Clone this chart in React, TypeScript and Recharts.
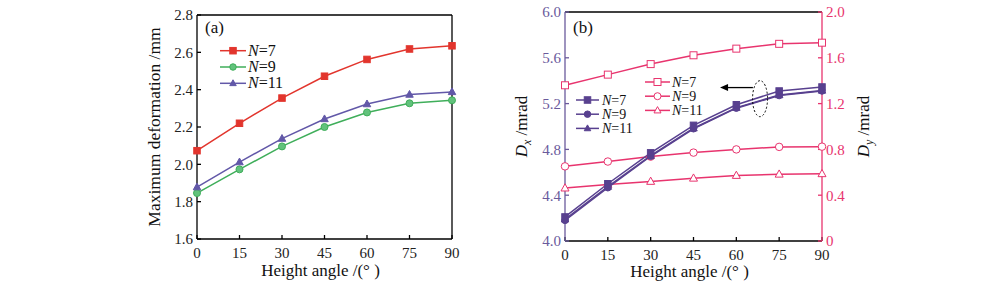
import React from "react";
import { LineChart, Line, XAxis, YAxis, ReferenceLine, ReferenceDot, Legend } from "recharts";

// Two panels: (a) max deformation vs height angle, (b) Dx / Dy pointing error on twin axes
const FONT = "'Liberation Serif', 'Times New Roman', serif";

const angles = [0, 15, 30, 45, 60, 75, 90];

// panel (a)
const defN7 = [2.073, 2.22, 2.355, 2.472, 2.562, 2.618, 2.635];
const defN9 = [1.846, 1.973, 2.096, 2.2, 2.278, 2.327, 2.343];
const defN11 = [1.878, 2.012, 2.138, 2.243, 2.323, 2.374, 2.388];
const ticksA = [1.6, 1.8, 2.0, 2.2, 2.4, 2.6, 2.8];

// panel (b)
const dxN7 = [4.21, 4.5, 4.77, 5.01, 5.19, 5.31, 5.345];
const dxN9 = [4.18, 4.465, 4.74, 4.98, 5.16, 5.27, 5.31];
const dxN11 = [4.19, 4.475, 4.745, 4.985, 5.165, 5.275, 5.315];
const dyN7 = [1.36, 1.453, 1.545, 1.622, 1.68, 1.722, 1.732];
const dyN9 = [0.652, 0.694, 0.737, 0.772, 0.8, 0.822, 0.824];
const dyN11 = [0.462, 0.494, 0.52, 0.548, 0.572, 0.583, 0.587];
const ticksDx = [4.0, 4.4, 4.8, 5.2, 5.6, 6.0];
const ticksDy = [0, 0.4, 0.8, 1.2, 1.6, 2.0];

const seriesLabels = ["7", "9", "11"];

const dataA = angles.map((a, i) => ({ angle: a, n7: defN7[i], n9: defN9[i], n11: defN11[i] }));
const dataB = angles.map((a, i) => ({
  angle: a,
  dx7: dxN7[i], dx9: dxN9[i], dx11: dxN11[i],
  dy7: dyN7[i], dy9: dyN9[i], dy11: dyN11[i],
}));

const RED = "#e2352d";
const GREEN = "#3fae5a";
const GREEN_FILL = "#62c27c";
const VIOLET = "#6258a8";
const DX = "#58408f";
const DX_AXIS = "#6a5a9c";
const PINK = "#e8346e";

type Shape = "square" | "circle" | "triangle";

function marker(shape: Shape, cx: number, cy: number, stroke: string, fill: string, s: number, key?: any) {
  if (shape === "square")
    return <rect key={key} x={cx - s / 2} y={cy - s / 2} width={s} height={s} fill={fill} stroke={stroke} strokeWidth={1} />;
  if (shape === "circle")
    return <circle key={key} cx={cx} cy={cy} r={s / 2} fill={fill} stroke={stroke} strokeWidth={1} />;
  const h = s * 0.9;
  return (
    <polygon
      key={key}
      points={`${cx},${cy - h * 0.6} ${cx - s / 2},${cy + h * 0.4} ${cx + s / 2},${cy + h * 0.4}`}
      fill={fill}
      stroke={stroke}
      strokeWidth={1}
    />
  );
}

const dot = (shape: Shape, stroke: string, fill: string, s: number) => (p: any) => {
  if (p.cx == null || p.cy == null) return <g key={p.index} />;
  return marker(shape, p.cx, p.cy, stroke, fill, s, p.index);
};

const tickA = { fill: "#222", fontSize: 15, fontFamily: FONT };

const LegendA = () => (
  <svg width={120} height={80} style={{ overflow: "visible" }}>
    <text x={5} y={18} fontSize={17} fontFamily={FONT} fill="#111">(a)</text>
    {[
      { c: RED, f: RED, s: "square" as Shape },
      { c: GREEN, f: GREEN_FILL, s: "circle" as Shape },
      { c: VIOLET, f: VIOLET, s: "triangle" as Shape },
    ].map((r, i) => {
      const y = 35.7 + i * 16.3;
      return (
        <g key={i}>
          <line x1={20} x2={46} y1={y} y2={y} stroke={r.c} strokeWidth={1.5} />
          {marker(r.s, 33, y, r.c, r.f, 6.5)}
          <text x={48} y={y + 5} fontSize={16} fontFamily={FONT} fill="#111">
            <tspan fontStyle="italic">N</tspan>={seriesLabels[i]}
          </text>
        </g>
      );
    })}
  </svg>
);

const LegendB = () => (
  <svg width={160} height={125} style={{ overflow: "visible" }}>
    <text x={5} y={18} fontSize={17} fontFamily={FONT} fill="#111">(b)</text>
    {(["square", "circle", "triangle"] as Shape[]).map((s, i) => {
      const y = 85 + i * 14.2;
      return (
        <g key={"dx" + i}>
          <line x1={8} x2={31} y1={y} y2={y} stroke={DX} strokeWidth={1.5} />
          {marker(s, 19.5, y, DX, DX, 6.5)}
          <text x={34} y={y + 5} fontSize={14} fontFamily={FONT} fill="#111">
            <tspan fontStyle="italic">N</tspan>={seriesLabels[i]}
          </text>
        </g>
      );
    })}
    {(["square", "circle", "triangle"] as Shape[]).map((s, i) => {
      const y = 67 + i * 14.2;
      return (
        <g key={"dy" + i}>
          <line x1={77} x2={102} y1={y} y2={y} stroke={PINK} strokeWidth={1.5} />
          {marker(s, 89.5, y, PINK, "#fff", 7)}
          <text x={104} y={y + 5} fontSize={14} fontFamily={FONT} fill="#111">
            <tspan fontStyle="italic">N</tspan>={seriesLabels[i]}
          </text>
        </g>
      );
    })}
  </svg>
);

const xTitle = (shift: number) => (props: any) => {
  const vb = props.viewBox;
  return (
    <text x={vb.x + vb.width / 2 - 4} y={vb.y + shift} textAnchor="middle" fontSize={17} fontFamily={FONT} fill="#111">
      Height angle /(° )
    </text>
  );
};

export default function App() {
  return (
    <div style={{ position: "absolute", left: 0, top: 0, width: 1000, height: 282, fontFamily: FONT, background: "#fff" }}>
      <div style={{ position: "absolute", left: 140, top: 0 }}>
        <LineChart width={330} height={282} data={dataA} margin={{ top: 15, right: 18, bottom: 0, left: 0 }}>
          <XAxis
            dataKey="angle"
            type="number"
            domain={[0, 90]}
            ticks={angles}
            height={43}
            tickSize={-4}
            tickMargin={12}
            stroke="#000"
            strokeWidth={1.3}
            tick={tickA}
            label={{ content: xTitle(37) }}
          />
          <YAxis
            type="number"
            domain={[1.6, 2.8]}
            ticks={ticksA}
            tickFormatter={(v: number) => v.toFixed(1)}
            width={57}
            tickSize={-4}
            tickMargin={8}
            stroke="#000"
            strokeWidth={1.3}
            tick={tickA}
            label={{
              content: (p: any) => {
                const vb = p.viewBox;
                const cx = 20;
                const cy = vb.y + vb.height / 2;
                return (
                  <text x={cx} y={cy} transform={`rotate(-90, ${cx}, ${cy})`} textAnchor="middle" fontSize={17.5} fontFamily={FONT} fill="#111">
                    Maximum deformation /mm
                  </text>
                );
              },
            }}
          />
          <ReferenceLine y={2.8} stroke="#000" strokeWidth={1.3} />
          <ReferenceLine x={90} stroke="#000" strokeWidth={1.3} />
          <Line dataKey="n7" stroke={RED} strokeWidth={1.5} dot={dot("square", RED, RED, 6.5)} isAnimationActive={false} />
          <Line dataKey="n9" stroke={GREEN} strokeWidth={1.5} dot={dot("circle", GREEN, GREEN_FILL, 7)} isAnimationActive={false} />
          <Line dataKey="n11" stroke={VIOLET} strokeWidth={1.5} dot={dot("triangle", VIOLET, VIOLET, 7.5)} isAnimationActive={false} />
          <Legend layout="vertical" align="center" verticalAlign="middle" wrapperStyle={{ left: 60, top: 15, width: 120, height: 80 }} content={() => <LegendA />} />
        </LineChart>
      </div>

      <div style={{ position: "absolute", left: 490, top: 0 }}>
        <LineChart width={400} height={282} data={dataB} margin={{ top: 12, right: 0, bottom: 0, left: 0 }}>
          <XAxis
            dataKey="angle"
            type="number"
            domain={[0, 90]}
            ticks={angles}
            height={41}
            tickSize={-4}
            tickMargin={12}
            stroke="#000"
            strokeWidth={1.3}
            tick={tickA}
            label={{ content: xTitle(36) }}
          />
          <YAxis
            yAxisId="left"
            type="number"
            domain={[4, 6]}
            ticks={ticksDx}
            tickFormatter={(v: number) => v.toFixed(1)}
            width={75}
            tickSize={-4}
            tickMargin={8}
            stroke={DX_AXIS}
            strokeWidth={1.3}
            tick={{ fill: DX_AXIS, fontSize: 15, fontFamily: FONT }}
            label={{
              content: (p: any) => {
                const vb = p.viewBox;
                const cx = 37;
                const cy = vb.y + vb.height / 2;
                return (
                  <text x={cx} y={cy} transform={`rotate(-90, ${cx}, ${cy})`} textAnchor="middle" fontSize={17} fontFamily={FONT} fill="#111">
                    <tspan fontStyle="italic">D</tspan>
                    <tspan fontStyle="italic" fontSize={12} dy={4}>x</tspan>
                    <tspan dy={-4}> /mrad</tspan>
                  </text>
                );
              },
            }}
          />
          <YAxis
            yAxisId="right"
            orientation="right"
            type="number"
            domain={[0, 2]}
            ticks={ticksDy}
            tickFormatter={(v: number) => (v === 0 ? "0" : v.toFixed(1))}
            width={68}
            tickSize={-4}
            tickMargin={8}
            stroke={PINK}
            strokeWidth={1.3}
            tick={{ fill: PINK, fontSize: 15, fontFamily: FONT }}
            label={{
              content: (p: any) => {
                const vb = p.viewBox;
                const cx = 379;
                const cy = vb.y + vb.height / 2;
                return (
                  <text x={cx} y={cy} transform={`rotate(-90, ${cx}, ${cy})`} textAnchor="middle" fontSize={17} fontFamily={FONT} fill="#111">
                    <tspan fontStyle="italic">D</tspan>
                    <tspan fontStyle="italic" fontSize={12} dy={4}>y</tspan>
                    <tspan dy={-4}> /mrad</tspan>
                  </text>
                );
              },
            }}
          />
          <ReferenceLine yAxisId="left" y={6} stroke="#000" strokeWidth={1.3} />
          <Line yAxisId="right" dataKey="dy7" stroke={PINK} strokeWidth={1.5} dot={dot("square", PINK, "#fff", 7)} isAnimationActive={false} />
          <Line yAxisId="right" dataKey="dy9" stroke={PINK} strokeWidth={1.5} dot={dot("circle", PINK, "#fff", 7.5)} isAnimationActive={false} />
          <Line yAxisId="right" dataKey="dy11" stroke={PINK} strokeWidth={1.5} dot={dot("triangle", PINK, "#fff", 8)} isAnimationActive={false} />
          <Line yAxisId="left" dataKey="dx11" stroke={DX} strokeWidth={1.5} dot={dot("triangle", DX, DX, 7.5)} isAnimationActive={false} />
          <Line yAxisId="left" dataKey="dx9" stroke={DX} strokeWidth={1.5} dot={dot("circle", DX, DX, 6.5)} isAnimationActive={false} />
          <Line yAxisId="left" dataKey="dx7" stroke={DX} strokeWidth={1.5} dot={dot("square", DX, DX, 6.5)} isAnimationActive={false} />
          <ReferenceLine
            yAxisId="left"
            segment={[{ x: 65.8, y: 5.34 }, { x: 54.3, y: 5.34 }]}
            stroke="#000"
            shape={(p: any) => (
              <g>
                <line x1={p.x1} y1={p.y1} x2={p.x2 + 6} y2={p.y2} stroke="#000" strokeWidth={1.3} />
                <polygon points={`${p.x2},${p.y2} ${p.x2 + 8},${p.y2 - 3.5} ${p.x2 + 8},${p.y2 + 3.5}`} fill="#000" />
              </g>
            )}
          />
          <ReferenceDot
            yAxisId="left"
            x={68.3}
            y={5.243}
            shape={(p: any) => (
              <ellipse cx={p.cx} cy={p.cy} rx={7.5} ry={18} fill="none" stroke="#000" strokeWidth={1} strokeDasharray="2 2" />
            )}
          />
          <Legend layout="vertical" align="center" verticalAlign="middle" wrapperStyle={{ left: 78, top: 15, width: 160, height: 125 }} content={() => <LegendB />} />
        </LineChart>
      </div>
    </div>
  );
}
